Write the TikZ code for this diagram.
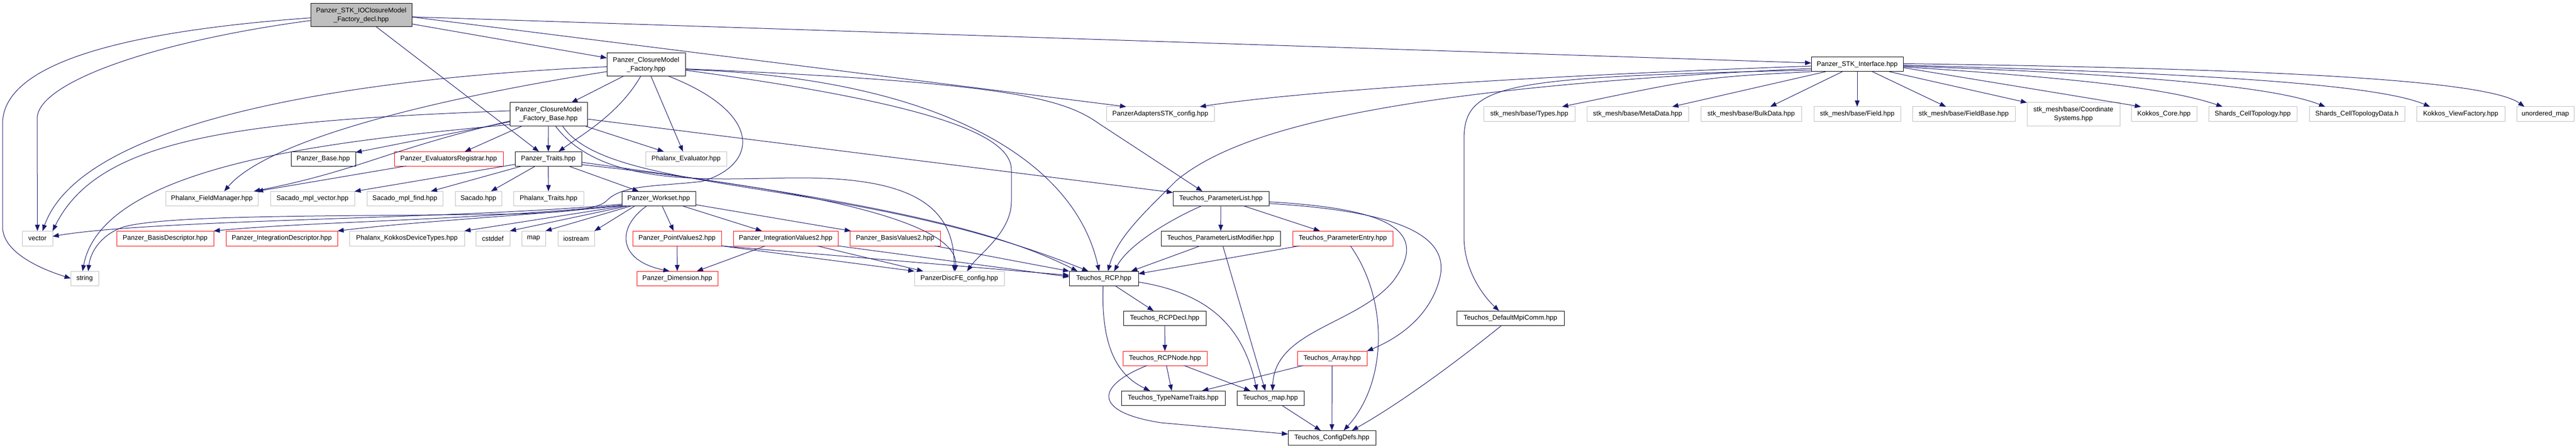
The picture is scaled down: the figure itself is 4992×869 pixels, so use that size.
\documentclass[tikz,border=0pt]{standalone}
\usepackage{fontspec}
\setmainfont{Liberation Sans}
\usetikzlibrary{arrows.meta}
\definecolor{edgec}{HTML}{191970}
\definecolor{grayb}{HTML}{BFBFBF}
\definecolor{mainf}{HTML}{BFBFBF}
\definecolor{redb}{HTML}{FF0000}
\newcommand{\dnode}[7]{%
  \pgfmathsetmacro\dnW{#3-#2}\pgfmathsetmacro\dnH{#5-#4}%
  \pgfmathsetmacro\dnX{(#2+#3)/2}\pgfmathsetmacro\dnY{(#4+#5)/2}%
  \node[#6, minimum width=\dnW pt, minimum height=\dnH pt] (#1) at (\dnX,\dnY) {#7};}
\begin{document}
\begin{tikzpicture}[x=1pt,y=-1pt,
  nd/.style={font=\fontsize{13}{17}\selectfont, align=center, inner sep=0pt, outer sep=0pt, fill=white, line width=1pt},
  bbox/.style={nd, draw=black},
  gbox/.style={nd, draw=grayb},
  rbox/.style={nd, draw=redb},
  mbox/.style={nd, draw=black, fill=mainf},
  dep/.style={draw=edgec, line width=1pt, -{Triangle[length=12pt,width=9pt]}}]
\useasboundingbox (0,0) rectangle (4992,869);
\fill[white] (0,0) rectangle (4992,869);
% nodes
\dnode{main}{602}{798}{7}{52}{mbox}{Panzer\_STK\_IOClosureModel\\\_Factory\_decl.hpp}
\dnode{fac}{1176}{1328}{103}{148}{bbox}{Panzer\_ClosureModel\\\_Factory.hpp}
\dnode{base}{988}{1138}{199}{244}{bbox}{Panzer\_ClosureModel\\\_Factory\_Base.hpp}
\dnode{stki}{3510}{3688}{111}{139}{bbox}{Panzer\_STK\_Interface.hpp}
\dnode{adapt}{2144}{2353}{207}{235}{gbox}{PanzerAdaptersSTK\_config.hpp}
\dnode{types}{2875}{3052}{207}{235}{gbox}{stk\_mesh/base/Types.hpp}
\dnode{meta}{3075}{3272}{207}{235}{gbox}{stk\_mesh/base/MetaData.hpp}
\dnode{bulk}{3296}{3491}{207}{235}{gbox}{stk\_mesh/base/BulkData.hpp}
\dnode{field}{3515}{3683}{207}{235}{gbox}{stk\_mesh/base/Field.hpp}
\dnode{fbase}{3706}{3905}{207}{235}{gbox}{stk\_mesh/base/FieldBase.hpp}
\dnode{coord}{3928}{4108}{199}{244}{gbox}{stk\_mesh/base/Coordinate\\Systems.hpp}
\dnode{kcore}{4130}{4257}{207}{235}{gbox}{Kokkos\_Core.hpp}
\dnode{shct}{4280}{4451}{207}{235}{gbox}{Shards\_CellTopology.hpp}
\dnode{shctd}{4475}{4660}{207}{235}{gbox}{Shards\_CellTopologyData.h}
\dnode{kvf}{4683}{4854}{207}{235}{gbox}{Kokkos\_ViewFactory.hpp}
\dnode{umap}{4877}{4988}{207}{235}{gbox}{unordered\_map}
\dnode{pbase}{564}{689}{294}{322}{bbox}{Panzer\_Base.hpp}
\dnode{reg}{764}{975}{294}{322}{rbox}{Panzer\_EvaluatorsRegistrar.hpp}
\dnode{traits}{998}{1127}{294}{322}{bbox}{Panzer\_Traits.hpp}
\dnode{peval}{1251}{1408}{294}{322}{gbox}{Phalanx\_Evaluator.hpp}
\dnode{fm}{321}{500}{371}{399}{gbox}{Phalanx\_FieldManager.hpp}
\dnode{smv}{524}{687}{371}{399}{gbox}{Sacado\_mpl\_vector.hpp}
\dnode{smf}{711}{858}{371}{399}{gbox}{Sacado\_mpl\_find.hpp}
\dnode{sacado}{882}{972}{371}{399}{gbox}{Sacado.hpp}
\dnode{ptraits}{995}{1131}{371}{399}{gbox}{Phalanx\_Traits.hpp}
\dnode{workset}{1205}{1348}{371}{399}{bbox}{Panzer\_Workset.hpp}
\dnode{plist}{2273}{2459}{371}{399}{bbox}{Teuchos\_ParameterList.hpp}
\dnode{vector}{43}{102}{448}{477}{gbox}{vector}
\dnode{bdesc}{226}{414}{448}{477}{rbox}{Panzer\_BasisDescriptor.hpp}
\dnode{idesc}{438}{654}{448}{477}{rbox}{Panzer\_IntegrationDescriptor.hpp}
\dnode{kdt}{677}{900}{448}{477}{gbox}{Phalanx\_KokkosDeviceTypes.hpp}
\dnode{cstddef}{922}{988}{448}{477}{gbox}{cstddef}
\dnode{map}{1011}{1057}{448}{477}{gbox}{map}
\dnode{iostream}{1081}{1152}{448}{477}{gbox}{iostream}
\dnode{pv2}{1226}{1398}{448}{477}{rbox}{Panzer\_PointValues2.hpp}
\dnode{iv2}{1421}{1624}{448}{477}{rbox}{Panzer\_IntegrationValues2.hpp}
\dnode{bv2}{1647}{1822}{448}{477}{rbox}{Panzer\_BasisValues2.hpp}
\dnode{mod}{2250}{2481}{448}{477}{bbox}{Teuchos\_ParameterListModifier.hpp}
\dnode{entry}{2505}{2699}{448}{477}{rbox}{Teuchos\_ParameterEntry.hpp}
\dnode{string}{137}{191}{526}{554}{gbox}{string}
\dnode{dim}{1234}{1391}{526}{554}{rbox}{Panzer\_Dimension.hpp}
\dnode{discfe}{1772}{1946}{526}{554}{gbox}{PanzerDiscFE\_config.hpp}
\dnode{rcp}{2072}{2206}{526}{554}{bbox}{Teuchos\_RCP.hpp}
\dnode{rcpdecl}{2177}{2337}{603}{631}{bbox}{Teuchos\_RCPDecl.hpp}
\dnode{mpi}{2823}{3031}{603}{631}{bbox}{Teuchos\_DefaultMpiComm.hpp}
\dnode{rcpnode}{2176}{2339}{681}{709}{rbox}{Teuchos\_RCPNode.hpp}
\dnode{array}{2514}{2649}{681}{709}{rbox}{Teuchos\_Array.hpp}
\dnode{tnt}{2173}{2374}{758}{786}{bbox}{Teuchos\_TypeNameTraits.hpp}
\dnode{tmap}{2397}{2527}{758}{786}{bbox}{Teuchos\_map.hpp}
\dnode{cdefs}{2496}{2666}{835}{863}{bbox}{Teuchos\_ConfigDefs.hpp}
% main
\draw[dep] (main.183) .. controls (250,60) and (5,120) .. (5,240) -- (5,440) .. controls (5,490) and (80,522) .. (string.west);
\draw[dep] (main.186) .. controls (300,80) and (72,160) .. (72,230) -- (vector.north);
\draw[dep] (main) -- (fac);
\draw[dep] (main) -- (traits);
\draw[dep] (main.-2) -- ([xshift=-66pt]adapt.north);
\draw[dep] (main) -- (stki);
% fac
\draw[dep] (fac) -- (base);
\draw[dep] (fac.-115) .. controls (1200,220) and (1130,260) .. ([xshift=20pt]traits.north);
\draw[dep] (fac) -- (peval);
\draw[dep] (fac.183) .. controls (700,150) and (160,230) .. ([xshift=10pt]vector.north);
\draw[dep] (fac.190) .. controls (850,190) and (520,270) .. ([xshift=24pt]fm.north);
\draw[dep] (fac.-27) .. controls (1480,220) and (1470,320) .. (1360,352) .. controls (1270,362) and (1205,358) .. (1175,390) .. controls (1160,405) and (1100,412) .. (1000,415) .. controls (700,420) and (330,415) .. (240,440) .. controls (195,455) and (175,490) .. ([xshift=7pt]string.north);
\draw[dep] (fac.-6) .. controls (1950,160) and (2060,190) .. (2130,240) -- ([xshift=-36pt]plist.north);
\draw[dep] (fac.-7) .. controls (1800,150) and (2080,300) .. ([xshift=-9pt]rcp.north);
\draw[dep] (fac.-8) .. controls (1800,200) and (1960,260) .. (1960,330) -- (1960,390) .. controls (1960,450) and (1900,490) .. ([xshift=15pt]discfe.north);
% base
\draw[dep] (base) -- (traits);
\draw[dep] (base) -- (reg);
\draw[dep] (base) -- (peval);
\draw[dep] (base) -- (plist);
\draw[dep] (base) -- (pbase);
\draw[dep] (base.175) .. controls (450,235) and (190,270) .. (vector.north east);
\draw[dep] (base.190) .. controls (750,290) and (700,330) .. ([xshift=-8pt]fm.north east);
\draw[dep] (base.195) .. controls (700,270) and (200,310) .. ([xshift=-4pt]string.north);
\draw[dep] (base.-60) .. controls (1170,370) and (1400,345) .. (1550,345) .. controls (1750,345) and (1850,390) .. ([xshift=-10pt]discfe.north);
\draw[dep] (base.-40) .. controls (1180,380) and (1650,340) .. ([xshift=-30pt]rcp.north);
% registrar
\draw[dep] (reg) -- ([xshift=-2pt]fm.north east);
% traits
\draw[dep] (traits) -- (smv);
\draw[dep] (traits) -- (smf);
\draw[dep] (traits) -- (sacado);
\draw[dep] (traits) -- (ptraits);
\draw[dep] (traits) -- (workset);
\draw[dep] (traits.-6) .. controls (1600,380) and (1900,430) .. ([xshift=16pt]rcp.north west);
\draw[dep] (traits.-10) .. controls (1500,360) and (1860,420) .. ([xshift=-8pt]discfe.north);
% workset
\draw[dep] ([yshift=3pt]workset.south west) .. controls (900,425) and (300,425) .. ([yshift=4pt]vector.east);
\draw[dep] ([yshift=1pt]workset.south west) .. controls (900,428) and (600,430) .. (bdesc.north east);
\draw[dep] (workset.south west) .. controls (1000,420) and (800,430) .. (idesc.north east);
\draw[dep] ([xshift=8pt]workset.south west) -- (kdt.north east);
\draw[dep] ([xshift=14pt]workset.south west) -- (cstddef.north east);
\draw[dep] ([xshift=20pt]workset.south west) -- (map.north east);
\draw[dep] ([xshift=26pt]workset.south west) -- (iostream.north east);
\draw[dep] ([xshift=49pt]workset.south west) .. controls (1195,440) and (1195,505) .. ([xshift=-15pt]dim.north);
\draw[dep] (workset) -- (pv2);
\draw[dep] (workset) -- (iv2);
\draw[dep] (workset) -- (bv2);
% values
\draw[dep] (pv2) -- (dim);
\draw[dep] (iv2) -- (dim);
\draw[dep] (pv2.south east) -- (discfe.north west);
\draw[dep] (pv2.south east) -- ([yshift=6pt]rcp.west);
\draw[dep] (iv2) -- ([xshift=17pt]discfe.north west);
\draw[dep] (iv2.south east) -- ([yshift=3pt]rcp.west);
\draw[dep] (bv2) -- (rcp.north west);
% parameter list
\draw[dep] (plist.-159) .. controls (2280,420) and (2190,470) .. ([xshift=20pt]rcp.north);
\draw[dep] (plist) -- (mod);
\draw[dep] (plist) -- (entry);
\draw[dep] (plist.-4) .. controls (2700,405) and (2770,450) .. (2700,545) .. controls (2630,630) and (2470,640) .. ([xshift=4pt]tmap.north);
\draw[dep] (plist.-6) .. controls (2720,410) and (2810,460) .. (2790,540) .. controls (2770,620) and (2700,660) .. (array.north east);
\draw[dep] (mod) -- ([xshift=-14pt]rcp.north east);
\draw[dep] (mod) -- ([xshift=-10pt]tmap.north);
\draw[dep] (entry) -- ([yshift=9pt]rcp.east);
\draw[dep] (entry.-44) .. controls (2690,580) and (2690,740) .. ([xshift=23pt]cdefs.north);
% stk interface
\draw[dep] (stki.182) .. controls (2900,150) and (2500,180) .. ([xshift=-28pt]adapt.north east);
\draw[dep] (stki.185) .. controls (2700,170) and (2400,250) .. (2280,350) .. controls (2220,410) and (2165,460) .. ([xshift=8pt]rcp.north);
\draw[dep] (stki.187) .. controls (2920,150) and (2837,160) .. (2837,270) -- (2837,460) .. controls (2837,520) and (2870,570) .. ([xshift=-22pt]mpi.north);
\draw[dep] (stki.189) .. controls (3300,150) .. ([xshift=-25pt]types.north east);
\draw[dep] (stki) -- ([xshift=67pt]meta.north);
\draw[dep] (stki) -- ([xshift=37pt]bulk.north);
\draw[dep] (stki) -- (field);
\draw[dep] (stki) -- ([xshift=65pt]fbase.north west);
\draw[dep] (stki) -- (coord.north west);
\draw[dep] (stki.-4) -- ([xshift=19pt]kcore.north west);
\draw[dep] (stki.-3) .. controls (4000,150) and (4200,170) .. ([xshift=27pt]shct.north west);
\draw[dep] (stki.-2) .. controls (4100,142) and (4400,165) .. ([xshift=31pt]shctd.north west);
\draw[dep] (stki.-1) .. controls (4200,140) and (4600,160) .. ([xshift=26pt]kvf.north west);
\draw[dep] (stki.1) .. controls (4400,133) and (4820,155) .. ([xshift=15pt]umap.north west);
% teuchos
\draw[dep] (rcp) -- (rcpdecl);
\draw[dep] (rcpdecl) -- (rcpnode);
\draw[dep] (rcp.-95) .. controls (2133,680) and (2170,730) .. ([xshift=-45pt]tnt.north);
\draw[dep] (rcp.-6) .. controls (2350,570) and (2410,640) .. ([xshift=-26pt]tmap.north);
\draw[dep] (rcpnode) -- (tnt);
\draw[dep] (rcpnode) -- ([xshift=26pt]tmap.north west);
\draw[dep] (rcpnode.-158) .. controls (2120,750) and (2120,800) .. (2250,820) -- ([yshift=7pt]cdefs.west);
\draw[dep] (tmap) -- (cdefs);
\draw[dep] (array) -- (tnt);
\draw[dep] (array) -- (cdefs);
\draw[dep] (mpi.-140) .. controls (2800,720) and (2700,790) .. ([xshift=39pt]cdefs.north);
\end{tikzpicture}
\end{document}
